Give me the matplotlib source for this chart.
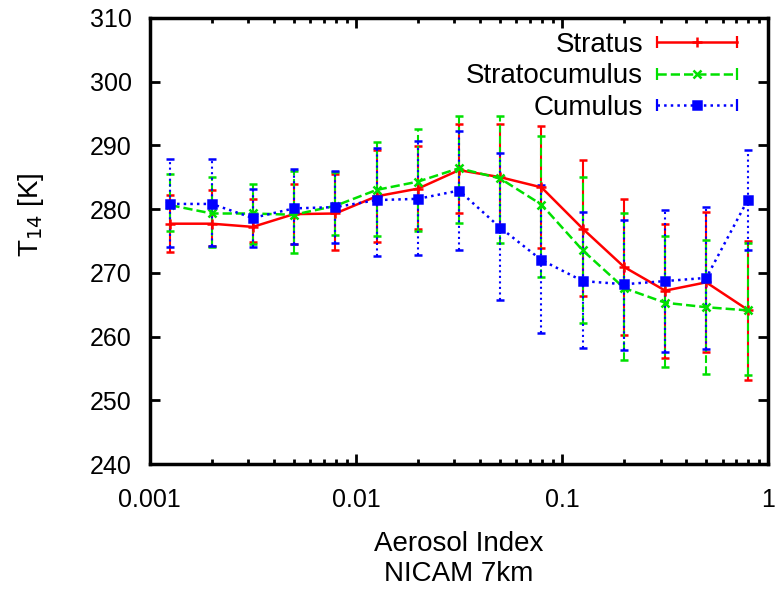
import matplotlib
matplotlib.use("Agg")
import matplotlib.pyplot as plt
from matplotlib.lines import Line2D
from matplotlib.legend_handler import HandlerLine2D
from matplotlib.ticker import LogLocator, FixedLocator

plt.rcParams['font.family'] = ['Liberation Sans', 'DejaVu Sans']

# bin centres of the aerosol index
aerosol = [0.00126, 0.002, 0.00316, 0.005, 0.00794, 0.0126, 0.02, 0.0316,
           0.05, 0.0794, 0.126, 0.2, 0.316, 0.5, 0.794]

stratus = [277.7, 277.7, 277.2, 279.2, 279.3, 282.0, 283.2, 286.1,
           285.0, 283.4, 276.9, 270.9, 267.2, 268.5, 264.2]
stratus_hi = [282.2, 283.0, 281.5, 283.9, 285.5, 289.2, 289.9, 293.4,
              293.4, 293.0, 287.7, 281.5, 277.7, 279.5, 275.0]
stratus_lo = [273.2, 274.2, 274.9, 274.5, 273.5, 274.9, 276.8, 279.3,
              276.5, 273.9, 266.3, 260.2, 256.6, 257.5, 253.2]

stratocu = [280.6, 279.3, 279.3, 279.1, 280.5, 283.0, 284.3, 286.4,
            284.8, 280.7, 273.5, 267.6, 265.3, 264.6, 264.1]
stratocu_hi = [285.5, 285.0, 283.9, 286.0, 285.8, 290.5, 292.5, 294.6,
               294.6, 291.5, 285.1, 279.3, 275.7, 275.2, 274.6]
stratocu_lo = [276.5, 274.0, 274.5, 273.1, 276.0, 275.7, 276.5, 277.8,
               274.6, 269.4, 262.1, 256.3, 255.2, 254.1, 254.0]

cumulus = [280.8, 280.8, 278.6, 280.1, 280.3, 281.4, 281.6, 282.9,
           277.1, 272.0, 268.7, 268.2, 268.7, 269.2, 281.4]
cumulus_hi = [287.8, 287.8, 283.2, 286.3, 286.0, 289.5, 290.6, 292.2,
              288.8, 283.8, 279.5, 278.3, 279.9, 280.3, 289.3]
cumulus_lo = [274.0, 274.2, 274.1, 274.5, 274.7, 272.6, 272.8, 273.5,
              265.7, 260.5, 258.2, 257.9, 257.5, 258.0, 273.5]

series = [
    ("Stratus", stratus, stratus_lo, stratus_hi, '#ff0000', '-', '+', 7),
    ("Stratocumulus", stratocu, stratocu_lo, stratocu_hi, '#00e000', '--', 'x', 6),
    ("Cumulus", cumulus, cumulus_lo, cumulus_hi, '#0000ff', ':', 's', 6),
]


# gnuplot-like key: line with a cap at each end and the point in the middle
class CapHandler(HandlerLine2D):
    def create_artists(self, legend, orig_handle, xdescent, ydescent,
                       width, height, fontsize, trans):
        arts = super().create_artists(legend, orig_handle, xdescent, ydescent,
                                      width, height, fontsize, trans)
        yc = (height - ydescent) / 2.0
        caps = Line2D([-xdescent, -xdescent + width], [yc, yc], ls='none',
                      marker='|', ms=9, mew=1.6, color=orig_handle.get_color())
        caps.set_transform(trans)
        return list(arts) + [caps]


fig = plt.figure(figsize=(7.84, 5.93), dpi=100)
ax = fig.add_axes([0.191, 0.2175, 0.789, 0.7525])

handles = []
for name, y, lo, hi, col, ls, mk, ms in series:
    yerr = [[v - l for v, l in zip(y, lo)], [h - v for v, h in zip(y, hi)]]
    eb = ax.errorbar(aerosol, y, yerr=yerr, color=col, ls=ls, lw=1.8,
                     marker=mk, ms=ms, mew=1.8, capsize=3, capthick=1.5,
                     elinewidth=1.5)
    eb[2][0].set_linestyle(ls)
    handles.append(Line2D([], [], color=col, ls=ls, lw=1.8, marker=mk,
                          ms=ms, mew=1.8, label=name))

ax.set_xscale('log')
ax.set_xlim(0.001, 1)
ax.set_ylim(240, 310)
ax.set_xticks([0.001, 0.01, 0.1, 1])
ax.set_xticklabels(['0.001', '0.01', '0.1', '1'])
ax.xaxis.set_minor_locator(LogLocator(base=10, subs=range(2, 10)))
ax.xaxis.set_minor_formatter(plt.NullFormatter())
ax.yaxis.set_major_locator(FixedLocator(range(240, 311, 10)))

ax.tick_params(which='both', direction='in', top=True, right=True,
               labelsize=18, width=2)
ax.tick_params(which='major', length=7)
ax.tick_params(axis='x', which='major', pad=17)
ax.tick_params(axis='y', which='major', pad=13)
ax.tick_params(which='minor', length=3.5)
for sp in ax.spines.values():
    sp.set_linewidth(2.5)

ax.set_ylabel('T$_{14}$ [K]', fontsize=20)
ax.yaxis.set_label_coords(-0.167, 0.558)
ax.set_xlabel('Aerosol Index\nNICAM 7km', fontsize=20, labelpad=14,
              linespacing=1.2)

leg = ax.legend(handles=handles, loc='upper right', frameon=False,
                bbox_to_anchor=(0.959, 0.981), borderaxespad=0,
                markerfirst=False, fontsize=20, handlelength=2.9,
                numpoints=1, borderpad=0.2, labelspacing=0.2,
                handletextpad=0.5, handler_map={Line2D: CapHandler()})

fig.savefig('out.png', dpi=100)
